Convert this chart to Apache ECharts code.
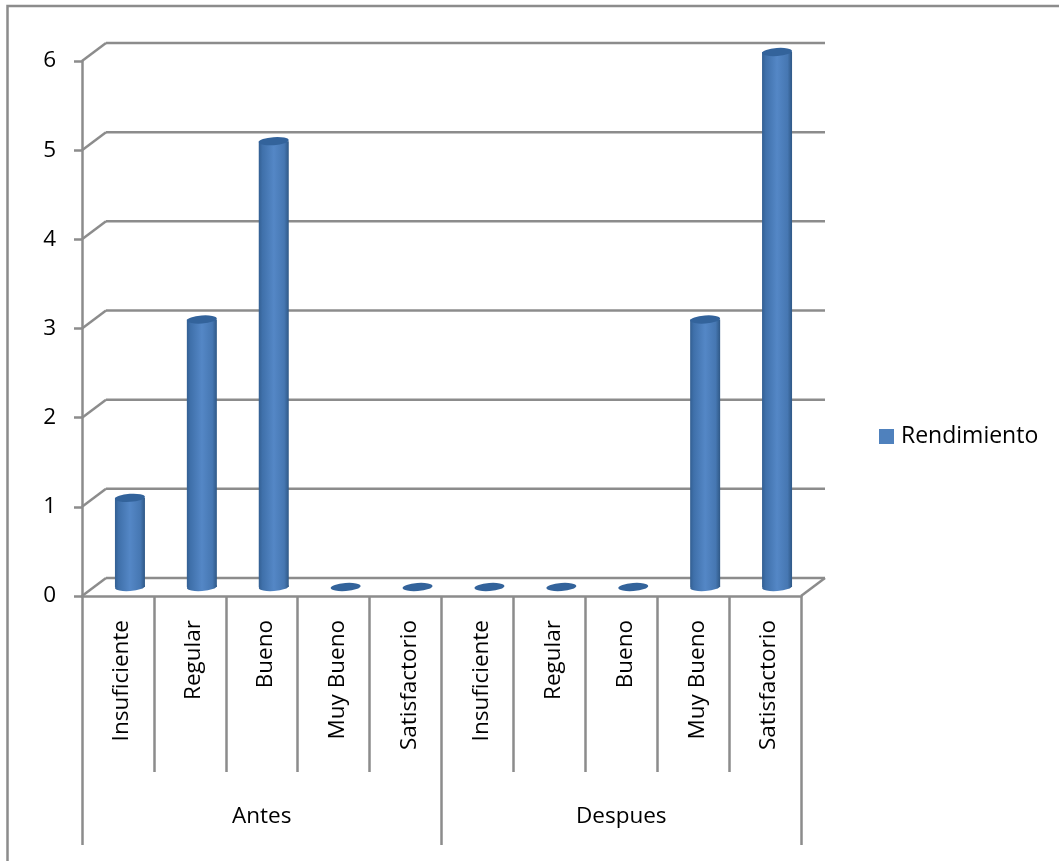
<!DOCTYPE html>
<html><head><meta charset="utf-8">
<script src="https://cdn.jsdelivr.net/npm/echarts@6/dist/echarts.min.js"></script>
<style>html,body{margin:0;padding:0;background:#fff}#c{width:1059px;height:861px}</style>
</head><body><div id="c"></div>
<script>
const categories = ['Insuficiente','Regular','Bueno','Muy Bueno','Satisfactorio','Insuficiente','Regular','Bueno','Muy Bueno','Satisfactorio'];
const groups = ['Antes','Despues'];
const rendimiento = [1,3,5,0,0,0,0,0,3,6];
const yTicks = [0,1,2,3,4,5,6];

const FONT = '"Open Sans"';
const FS = 22.5;
const GRAY = '#8c8c8c';
const LW = 2.5;
const DEPTH_X = 24, DEPTH_Y = -18;
const g = {left:82, width:719, top:61, height:535};

const cylinder = {type:'linear',x:0,y:0,x2:1,y2:0,colorStops:[
  {offset:0,color:'#335f92'},{offset:0.12,color:'#3f70aa'},{offset:0.5,color:'#5487c6'},
  {offset:0.85,color:'#4677b2'},{offset:1,color:'#2f5886'}]};

function wall(params, api){
  const c = params.coordSys;
  const y = api.coord([0, api.value(0)])[1];
  const st = {stroke:GRAY,lineWidth:LW,fill:null};
  const children = [
    {type:'line',shape:{x1:c.x,y1:y,x2:c.x+DEPTH_X,y2:y+DEPTH_Y},style:st},
    {type:'line',shape:{x1:c.x+DEPTH_X,y1:y+DEPTH_Y,x2:c.x+c.width+DEPTH_X,y2:y+DEPTH_Y},style:st}
  ];
  if (api.value(0) === 0) children.push({type:'line',shape:{x1:c.x+c.width,y1:y,x2:c.x+c.width+DEPTH_X,y2:y+DEPTH_Y},style:st});
  return {type:'group',children};
}

const chart = echarts.init(document.getElementById('c'),null,{renderer:'canvas'});
chart.setOption({
  animation:false,
  backgroundColor:'#fff',
  textStyle:{fontFamily:FONT},
  graphic:[{type:'polyline',silent:true,z:0,shape:{points:[[7.5,861],[7.5,6],[1059,6]]},style:{stroke:GRAY,lineWidth:LW,fill:null}}],
  legend:{left:879,top:425,padding:0,icon:'rect',itemWidth:15,itemHeight:15,itemGap:0,
    data:[{name:'Rendimiento',itemStyle:{color:'#4f81bd'}}],
    textStyle:{fontFamily:FONT,fontSize:23,color:'#000',padding:[0,0,0,2]}},
  grid:[
    {left:g.left,width:g.width,top:g.top,height:g.height},
    {left:g.left+DEPTH_X/2,width:g.width,top:g.top+DEPTH_Y/2,height:g.height}
  ],
  xAxis:[
    {type:'category',gridIndex:0,data:categories,
      axisLine:{show:true,lineStyle:{color:GRAY,width:LW}},
      axisTick:{show:true,length:176,lineStyle:{color:GRAY,width:LW}},
      axisLabel:{rotate:90,interval:0,margin:24,fontFamily:FONT,fontSize:FS,color:'#000',
        formatter:v=>`{a|${v}}`,
        rich:{a:{fontFamily:FONT,fontSize:FS,color:'#000',padding:[8,0,0,0]}}}},
    {type:'category',gridIndex:0,position:'bottom',data:groups,
      axisLine:{show:false},
      axisTick:{show:true,length:249,lineStyle:{color:GRAY,width:LW}},
      axisLabel:{margin:209,interval:0,fontFamily:FONT,fontSize:FS,color:'#000'}},
    {type:'category',gridIndex:1,data:categories,show:false}
  ],
  yAxis:[
    {type:'value',gridIndex:0,min:0,max:6,interval:1,
      axisLine:{show:true,lineStyle:{color:GRAY,width:LW}},
      axisTick:{show:true,length:8,lineStyle:{color:GRAY,width:LW}},
      axisLabel:{margin:26,fontFamily:FONT,fontSize:FS,color:'#000'},
      splitLine:{show:false}},
    {type:'value',gridIndex:1,min:0,max:6,interval:1,show:false,splitLine:{show:false}}
  ],
  series:[
    {type:'custom',name:'pared',xAxisIndex:0,yAxisIndex:0,z:1,silent:true,renderItem:wall,
      data:yTicks.map(v=>[v]),encode:{y:0},clip:false},
    {type:'bar',name:'Rendimiento',xAxisIndex:2,yAxisIndex:1,data:rendimiento,barWidth:30,z:3,
      itemStyle:{color:cylinder}},
    {type:'pictorialBar',name:'base',xAxisIndex:2,yAxisIndex:1,data:rendimiento.map(v=>v>0?v:null),symbol:'circle',
      symbolSize:[30,8],symbolPosition:'start',symbolOffset:[0,'50%'],symbolRotate:4,z:2,itemStyle:{color:cylinder}},
    {type:'pictorialBar',name:'tope',xAxisIndex:2,yAxisIndex:1,data:rendimiento,symbol:'circle',
      symbolSize:[30,8],symbolPosition:'end',symbolOffset:[0,'-50%'],symbolRotate:4,z:4,itemStyle:{color:'#33639b'}}
  ]
});
</script></body></html>
